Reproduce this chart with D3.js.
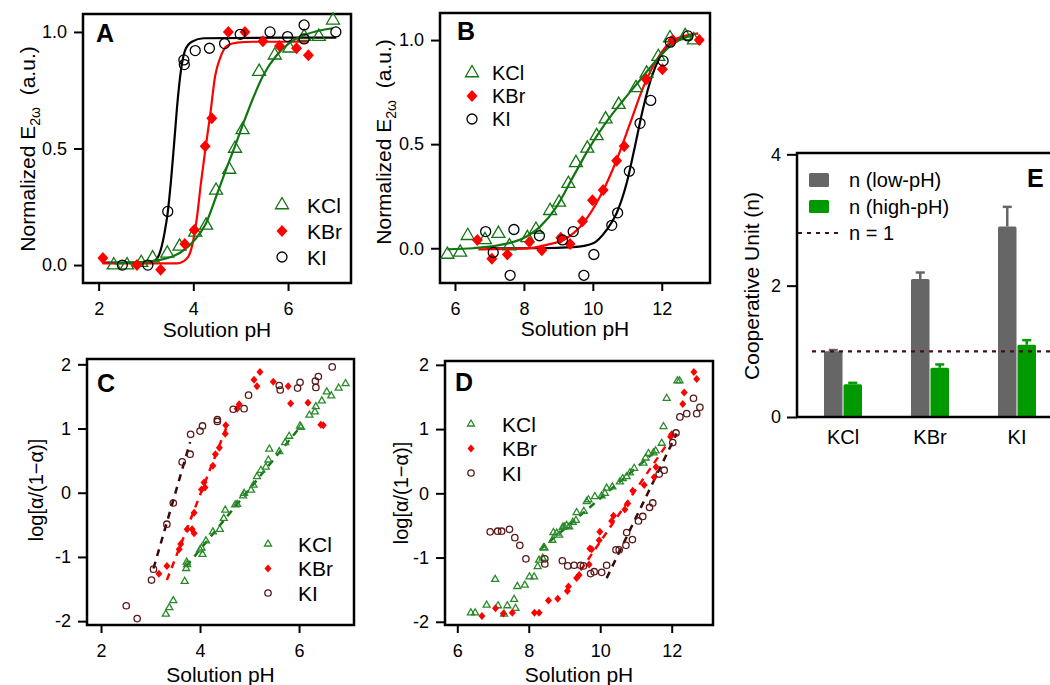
<!DOCTYPE html>
<html>
<head>
<meta charset="utf-8">
<script src="https://cdn.jsdelivr.net/npm/d3@7"></script>
<style>
  body { margin: 0; background: #fff; }
  svg { font-family: "Liberation Sans", Arial, sans-serif; }
  .tick text { font-size: 18px; fill: #000; }
  .tick line { stroke: #000; stroke-width: 2; }
</style>
</head>
<body>
<svg id="fig" width="1050" height="685"></svg>
<script>
// ---- data ----

// A: normalized E2w vs pH, low-pH transition
const aKCl = [[2.32,0.00],[2.60,0.00],[2.90,0.01],[3.14,0.03],[3.45,0.05],[3.71,0.08],[4.04,0.14],[4.27,0.17],[4.48,0.32],[4.76,0.41],[4.88,0.50],[5.04,0.58],[5.39,0.83],[5.72,0.90],[6.03,0.93],[6.34,0.98],[6.65,0.98],[6.95,1.05]];
const aKBr = [[2.09,0.03],[2.81,0.00],[3.31,-0.02],[3.82,0.09],[4.02,0.15],[4.25,0.51],[4.39,0.63],[4.74,1.00],[5.09,1.00],[5.47,0.96],[5.82,0.94],[6.18,0.93],[6.43,0.90]];
const aKI = [[2.50,0.00],[3.04,0.00],[3.46,0.23],[3.80,0.88],[3.81,0.86],[4.04,0.92],[4.34,0.93],[4.66,0.95],[4.99,0.99],[5.62,1.00],[5.99,0.98],[6.34,1.03],[6.34,0.97],[7.01,1.00]];
const aFitKCl = [[2.32,0.007],[3.16,0.018],[3.73,0.054],[4.04,0.11],[4.27,0.18],[4.48,0.293],[4.71,0.42],[4.88,0.51],[5.06,0.61],[5.27,0.72],[5.48,0.815],[5.76,0.90],[6.04,0.954],[6.39,0.99],[6.95,1.016]];
const aFitKBr = [[2.08,0.007],[3.66,0.007],[3.87,0.029],[3.97,0.079],[4.08,0.21],[4.16,0.35],[4.25,0.49],[4.36,0.65],[4.46,0.81],[4.57,0.89],[4.71,0.94],[4.92,0.954],[5.27,0.958],[6.43,0.958]];
const aFitKI = [[2.08,0.011],[3.02,0.011],[3.20,0.021],[3.31,0.064],[3.39,0.136],[3.46,0.226],[3.53,0.365],[3.60,0.536],[3.67,0.708],[3.74,0.837],[3.83,0.923],[3.97,0.958],[4.22,0.973],[7.02,0.976]];

// B: normalized E2w vs pH, high-pH transition
const bKCl = [[5.78,-0.03],[6.15,-0.02],[6.37,0.06],[6.87,0.04],[7.26,0.07],[7.58,0.01],[8.10,0.05],[8.35,0.09],[8.76,0.18],[9.02,0.22],[9.29,0.31],[9.51,0.41],[9.84,0.48],[10.11,0.54],[10.37,0.62],[10.75,0.69],[11.25,0.77],[11.56,0.84],[11.90,0.92],[12.24,1.01],[12.68,1.02],[12.93,1.00]];
const bKBr = [[6.65,0.04],[7.07,-0.05],[7.52,-0.03],[8.16,0.03],[8.52,-0.01],[9.07,0.05],[9.34,0.02],[9.70,0.13],[9.99,0.23],[10.30,0.28],[10.69,0.42],[10.91,0.49],[11.55,0.81],[12.02,0.86],[12.32,1.00],[13.09,1.00]];
const bKI = [[6.89,0.08],[7.11,-0.02],[7.60,-0.13],[7.71,0.09],[8.45,0.06],[9.12,0.04],[9.43,0.08],[9.74,-0.13],[10.03,-0.03],[10.55,0.11],[10.72,0.17],[11.06,0.37],[11.37,0.60],[11.68,0.71],[12.04,0.90],[12.25,0.99],[12.76,1.02]];
const bFitKCl = [[5.78,-0.005],[6.53,0.0],[7.31,0.016],[7.98,0.048],[8.47,0.104],[8.95,0.20],[9.43,0.344],[9.92,0.488],[10.40,0.608],[10.89,0.712],[11.37,0.808],[11.85,0.904],[12.34,0.984],[12.92,1.024]];
const bFitKBr = [[6.68,-0.005],[7.98,-0.002],[8.66,0.016],[9.24,0.048],[9.72,0.12],[10.21,0.248],[10.69,0.424],[11.08,0.60],[11.47,0.776],[11.85,0.904],[12.34,1.0],[13.06,1.032]];
const bFitKI = [[6.92,0.0],[8.47,0.0],[9.43,0.005],[10.01,0.024],[10.40,0.088],[10.69,0.168],[10.98,0.312],[11.22,0.488],[11.47,0.68],[11.71,0.824],[11.95,0.92],[12.24,0.984],[12.73,1.02]];

// C: log[a/(1-a)] vs pH, low-pH
const cKCl = [[3.31,-1.89],[3.38,-1.79],[3.46,-1.68],[3.69,-1.38],[3.72,-1.18],[3.74,-1.12],[3.73,-1.08],[4.00,-0.89],[4.03,-0.86],[4.05,-0.96],[4.12,-0.75],[4.26,-0.61],[4.40,-0.57],[4.48,-0.40],[4.51,-0.27],[4.71,-0.19],[4.75,-0.18],[4.87,-0.05],[4.89,-0.01],[5.03,0.04],[5.08,0.12],[5.15,0.25],[5.23,0.35],[5.33,0.40],[5.38,0.51],[5.40,0.68],[5.60,0.64],[5.72,0.78],[5.80,0.88],[6.02,1.04],[6.04,1.02],[6.21,1.21],[6.32,1.26],[6.34,1.34],[6.46,1.43],[6.56,1.57],[6.65,1.51],[6.80,1.63],[6.94,1.70]];
const cKBr = [[3.17,-1.26],[3.33,-1.14],[3.58,-0.88],[3.61,-0.80],[3.74,-0.57],[3.84,-0.57],[3.88,-0.63],[3.88,-0.31],[4.03,0.05],[4.08,0.16],[4.10,0.08],[4.26,0.42],[4.31,0.60],[4.39,0.70],[4.51,0.92],[4.52,1.05],[4.75,1.31],[4.79,1.38],[5.09,1.76],[5.15,1.66],[5.21,1.88],[5.48,1.73],[5.78,1.66],[5.83,1.39],[6.18,1.40],[6.44,1.06],[6.49,1.05]];
const cKI = [[2.51,-1.76],[2.73,-1.96],[3.02,-1.36],[3.06,-1.19],[3.33,-0.49],[3.46,-0.16],[3.64,0.48],[3.80,0.60],[3.81,0.91],[4.00,0.96],[4.05,1.04],[4.35,1.14],[4.35,1.11],[4.67,1.30],[4.89,1.31],[4.98,1.52],[5.60,1.67],[5.62,1.60],[5.97,1.63],[6.02,1.72],[6.33,1.74],[6.34,1.64],[6.39,1.81],[6.67,1.96]];
const cFitKCl = [[3.72,-1.15],[6.05,1.05]];
const cFitKBr = [[3.33,-1.36],[4.55,1.05]];
const cFitKI = [[3.06,-1.18],[3.80,0.79]];

// D: log[a/(1-a)] vs pH, high-pH
const dKCl = [[6.38,-1.86],[6.50,-1.86],[6.82,-1.74],[7.06,-1.34],[7.14,-1.75],[7.31,-1.88],[7.40,-1.75],[7.59,-1.65],[7.63,-1.79],[7.68,-1.45],[7.89,-1.43],[8.02,-1.30],[8.15,-1.30],[8.25,-1.14],[8.29,-1.04],[8.39,-1.01],[8.41,-0.85],[8.44,-0.85],[8.66,-0.73],[8.69,-0.61],[8.78,-0.62],[8.85,-0.65],[8.95,-0.53],[8.99,-0.52],[9.06,-0.50],[9.13,-0.52],[9.23,-0.45],[9.32,-0.42],[9.34,-0.30],[9.54,-0.28],[9.62,-0.13],[9.67,-0.10],[9.85,-0.05],[10.04,-0.04],[10.13,0.00],[10.18,0.08],[10.34,0.10],[10.55,0.18],[10.63,0.23],[10.74,0.26],[10.83,0.32],[10.95,0.39],[11.21,0.47],[11.27,0.55],[11.35,0.62],[11.49,0.63],[11.55,0.66],[11.72,0.78],[11.77,1.04],[11.86,1.48],[12.16,1.75],[12.22,1.75]];
const dKBr = [[6.69,-1.91],[7.07,-1.79],[7.29,-1.87],[7.54,-1.86],[8.16,-1.86],[8.29,-1.86],[8.55,-1.67],[8.81,-1.64],[9.08,-1.52],[9.11,-1.45],[9.34,-1.32],[9.41,-1.27],[9.69,-1.11],[9.71,-0.86],[9.76,-0.87],[9.97,-0.73],[9.99,-0.60],[10.32,-0.43],[10.37,-0.35],[10.69,-0.25],[10.77,-0.16],[10.91,0.04],[11.23,0.13],[11.51,0.25],[11.56,0.41],[11.97,0.88],[12.00,0.92],[12.31,1.39],[12.35,1.57],[12.62,1.89],[12.70,1.78]];
const dKI = [[6.92,-0.60],[7.13,-0.59],[7.24,-0.59],[7.46,-0.56],[7.61,-0.69],[7.75,-0.81],[7.92,-1.02],[8.45,-1.02],[8.45,-1.10],[8.94,-1.05],[9.09,-1.13],[9.27,-1.12],[9.45,-1.12],[9.53,-1.13],[9.73,-1.25],[9.83,-1.22],[10.04,-1.23],[10.18,-1.12],[10.44,-0.88],[10.53,-0.88],[10.72,-0.81],[10.74,-0.61],[10.90,-0.72],[11.07,-0.43],[11.19,-0.36],[11.38,-0.22],[11.47,-0.15],[11.65,0.30],[11.79,0.36],[12.03,0.79],[12.12,0.94],[12.23,1.19],[12.42,1.24],[12.61,1.48],[12.70,1.24],[12.79,1.34]];
const dFitKCl = [[8.31,-0.88],[11.58,0.67]];
const dFitKBr = [[9.45,-1.20],[11.85,0.75]];
const dFitKI = [[10.18,-1.32],[12.14,0.93]];

// E: cooperative unit n
const salts = ['KCl', 'KBr', 'KI'];
const nLow = [1.00, 2.10, 2.90];
const nLowErr = [0.02, 0.10, 0.30];
const nHigh = [0.50, 0.75, 1.10];
const nHighErr = [0.02, 0.05, 0.07];

// ---- styles ----
const GREEN = '#127512', RED = '#ff0000', BLACK = '#000000';
const BROWN = '#5a1818', DARKBROWN = '#3a0808';
const GREEN_S = '#2a8a2a';

const svg = d3.select('#fig');

function triPath(s) {
  const h = s * 0.866;
  return `M0,${-h * 2 / 3}L${s / 2},${h / 3}L${-s / 2},${h / 3}Z`;
}
function diaPath(w, h) {
  return `M0,${-h / 2}L${w / 2},0L0,${h / 2}L${-w / 2},0Z`;
}

const fmt1 = d3.format('.1f');
const fmtInt = d => String(d);

function panel(o) {
  const x = d3.scaleLinear().domain(o.xDomain).range([o.left, o.right]);
  const y = d3.scaleLinear().domain(o.yDomain).range([o.bottom, o.top]);

  svg.append('g')
    .attr('transform', `translate(0,${o.bottom})`)
    .call(d3.axisBottom(x).tickValues(o.xTicks).tickFormat(fmtInt).tickSize(8).tickSizeOuter(0).tickPadding(11))
    .call(g => g.select('.domain').remove());
  svg.append('g')
    .attr('transform', `translate(${o.left},0)`)
    .call(d3.axisLeft(y).tickValues(o.yTicks).tickFormat(o.yFmt).tickSize(9).tickSizeOuter(0).tickPadding(7))
    .call(g => g.select('.domain').remove());

  svg.append('rect')
    .attr('x', o.left).attr('y', o.top)
    .attr('width', o.right - o.left).attr('height', o.bottom - o.top)
    .attr('fill', 'none').attr('stroke', '#000').attr('stroke-width', 2.5);

  svg.append('text')
    .attr('x', (o.left + o.right) / 2).attr('y', o.xTitleY)
    .attr('text-anchor', 'middle').attr('font-size', 21)
    .text('Solution pH');

  svg.append('text')
    .attr('x', o.letter[0]).attr('y', o.letter[1])
    .attr('font-size', 25).attr('font-weight', 'bold')
    .text(o.letterText);

  return { x, y };
}

function drawCurve(p, pts, color, dashed, width) {
  const line = d3.line().x(d => p.x(d[0])).y(d => p.y(d[1]));
  if (!dashed) line.curve(d3.curveMonotoneX);
  svg.append('path')
    .attr('d', line(pts))
    .attr('fill', 'none').attr('stroke', color)
    .attr('stroke-width', width)
    .attr('stroke-dasharray', dashed ? '7,6' : null);
}

function styleMark(sel, shape, color, big) {
  if (shape === 'tri') {
    sel.attr('d', triPath(big ? 13 : 7)).attr('fill', 'none')
      .attr('stroke', color).attr('stroke-width', 1.3);
  } else if (shape === 'dia') {
    sel.attr('d', big ? diaPath(11, 12) : diaPath(7, 8)).attr('fill', color).attr('stroke', 'none');
  } else {
    const r = big ? 5 : 3.2;
    sel.attr('d', `M${-r},0A${r},${r} 0 1,0 ${r},0A${r},${r} 0 1,0 ${-r},0Z`)
      .attr('fill', 'none').attr('stroke', color).attr('stroke-width', 1.3);
  }
}

function drawMarks(p, pts, shape, color, big) {
  const sel = svg.append('g').selectAll('path').data(pts).join('path')
    .attr('transform', d => `translate(${p.x(d[0])},${p.y(d[1])})`);
  styleMark(sel, shape, color, big);
}

function legend(x0, xt, rows, dy, entries, big, fontSize) {
  entries.forEach((e, i) => {
    const yy = rows + i * dy;
    const m = svg.append('path').attr('transform', `translate(${x0},${yy})`);
    styleMark(m, e.shape, e.color, big);
    svg.append('text').attr('x', xt).attr('y', yy)
      .attr('dy', '0.36em').attr('font-size', fontSize).text(e.label);
  });
}

function e2wTitle(x, y) {
  const t = svg.append('text')
    .attr('transform', `translate(${x},${y}) rotate(-90)`)
    .attr('text-anchor', 'middle').attr('font-size', 21);
  t.append('tspan').text('Normalized E');
  t.append('tspan').attr('dy', 5).attr('font-size', 14).text('2ω');
  t.append('tspan').attr('dy', -5).text('\u00a0 (a.u.)');
}

// ---- Panel A ----
const pA = panel({
  left: 83, right: 351, top: 14, bottom: 283,
  xDomain: [1.67, 7.33], yDomain: [-0.077, 1.077],
  xTicks: [2, 4, 6], yTicks: [0, 0.5, 1], yFmt: fmt1,
  xTitleY: 337, letter: [96, 42], letterText: 'A'
});
e2wTitle(35, 149);
drawCurve(pA, aFitKI, BLACK, false, 2.2);
drawCurve(pA, aFitKBr, RED, false, 2.2);
drawCurve(pA, aFitKCl, GREEN, false, 2.2);
drawMarks(pA, aKCl, 'tri', GREEN, true);
drawMarks(pA, aKBr, 'dia', RED, true);
drawMarks(pA, aKI, 'circ', BLACK, true);
legend(282, 307, 205, 26, [
  { shape: 'tri', color: GREEN, label: 'KCl' },
  { shape: 'dia', color: RED, label: 'KBr' },
  { shape: 'circ', color: BLACK, label: 'KI' }
], true, 21);

// ---- Panel B ----
const pB = panel({
  left: 440, right: 710, top: 13, bottom: 283,
  xDomain: [5.565, 13.40], yDomain: [-0.167, 1.13],
  xTicks: [6, 8, 10, 12], yTicks: [0, 0.5, 1], yFmt: fmt1,
  xTitleY: 336, letter: [457, 40], letterText: 'B'
});
e2wTitle(391, 142);
drawCurve(pB, bFitKI, BLACK, false, 2.2);
drawCurve(pB, bFitKBr, RED, false, 2.2);
drawCurve(pB, bFitKCl, GREEN, false, 2.2);
drawMarks(pB, bKCl, 'tri', GREEN, true);
drawMarks(pB, bKBr, 'dia', RED, true);
drawMarks(pB, bKI, 'circ', BLACK, true);
legend(472, 492, 73, 23, [
  { shape: 'tri', color: GREEN, label: 'KCl' },
  { shape: 'dia', color: RED, label: 'KBr' },
  { shape: 'circ', color: BLACK, label: 'KI' }
], true, 20);

// ---- Panel C ----
const pC = panel({
  left: 87, right: 354, top: 359, bottom: 625,
  xDomain: [1.717, 7.11], yDomain: [-2.06, 2.083],
  xTicks: [2, 4, 6], yTicks: [-2, -1, 0, 1, 2], yFmt: fmtInt,
  xTitleY: 682, letter: [97, 392], letterText: 'C'
});
svg.append('text')
  .attr('transform', 'translate(43,490) rotate(-90)')
  .attr('text-anchor', 'middle').attr('font-size', 20)
  .text('log[α/(1\u2212α)]');
drawCurve(pC, cFitKCl, GREEN, true, 2.5);
drawCurve(pC, cFitKBr, RED, true, 2.5);
drawCurve(pC, cFitKI, DARKBROWN, true, 2.5);
drawMarks(pC, cKCl, 'tri', GREEN_S, false);
drawMarks(pC, cKBr, 'dia', RED, false);
drawMarks(pC, cKI, 'circ', BROWN, false);
legend(268, 298, 544, 24.5, [
  { shape: 'tri', color: GREEN_S, label: 'KCl' },
  { shape: 'dia', color: RED, label: 'KBr' },
  { shape: 'circ', color: BROWN, label: 'KI' }
], false, 21);

// ---- Panel D ----
const pD = panel({
  left: 445, right: 713, top: 361, bottom: 625,
  xDomain: [5.656, 13.156], yDomain: [-2.05, 2.06],
  xTicks: [6, 8, 10, 12], yTicks: [-2, -1, 0, 1, 2], yFmt: fmtInt,
  xTitleY: 682, letter: [455, 391], letterText: 'D'
});
svg.append('text')
  .attr('transform', 'translate(408,493) rotate(-90)')
  .attr('text-anchor', 'middle').attr('font-size', 20)
  .text('log[α/(1\u2212α)]');
drawCurve(pD, dFitKCl, GREEN, true, 2.5);
drawCurve(pD, dFitKBr, RED, true, 2.5);
drawCurve(pD, dFitKI, DARKBROWN, true, 2.5);
drawMarks(pD, dKCl, 'tri', GREEN_S, false);
drawMarks(pD, dKBr, 'dia', RED, false);
drawMarks(pD, dKI, 'circ', BROWN, false);
legend(471, 502, 424, 24.5, [
  { shape: 'tri', color: GREEN_S, label: 'KCl' },
  { shape: 'dia', color: RED, label: 'KBr' },
  { shape: 'circ', color: BROWN, label: 'KI' }
], false, 21);

// ---- Panel E ----
const E = { left: 797, right: 1062, top: 153, bottom: 417 };
const xE = d3.scaleBand().domain(salts).range([799.5, 1060.5]);
const xSub = d3.scaleBand().domain(['low', 'high']).range([-19, 19]).paddingInner(0.05);
const yE = d3.scaleLinear().domain([0, 4.02]).range([E.bottom, E.top]);
const GRAY = '#666666', BARGREEN = '#009a00';

svg.append('g')
  .attr('transform', `translate(${E.left},0)`)
  .call(d3.axisLeft(yE).tickValues([0, 2, 4]).tickFormat(fmtInt).tickSize(10).tickSizeOuter(0).tickPadding(6))
  .call(g => g.select('.domain').remove());

svg.append('text')
  .attr('transform', 'translate(759,286) rotate(-90)')
  .attr('text-anchor', 'middle').attr('font-size', 21)
  .text('Cooperative Unit (n)');

const center = s => xE(s) + xE.bandwidth() / 2;
const barData = [];
salts.forEach((s, i) => {
  barData.push({ s, key: 'low', v: nLow[i], err: nLowErr[i], color: GRAY });
  barData.push({ s, key: 'high', v: nHigh[i], err: nHighErr[i], color: BARGREEN });
});

svg.append('g').selectAll('rect').data(barData).join('rect')
  .attr('x', d => center(d.s) + xSub(d.key))
  .attr('width', xSub.bandwidth())
  .attr('y', d => yE(d.v))
  .attr('height', d => yE(0) - yE(d.v))
  .attr('rx', 1.5)
  .attr('fill', d => d.color);

// upper error bars with caps
const errs = svg.append('g');
barData.forEach(d => {
  const cx = center(d.s) + xSub(d.key) + xSub.bandwidth() / 2;
  errs.append('line')
    .attr('x1', cx).attr('x2', cx)
    .attr('y1', yE(d.v)).attr('y2', yE(d.v + d.err))
    .attr('stroke', d.color).attr('stroke-width', 2.5);
  errs.append('line')
    .attr('x1', cx - 4.5).attr('x2', cx + 4.5)
    .attr('y1', yE(d.v + d.err)).attr('y2', yE(d.v + d.err))
    .attr('stroke', d.color).attr('stroke-width', 2.5);
});

// n = 1 reference
svg.append('line')
  .attr('x1', 812).attr('x2', 1050)
  .attr('y1', yE(1)).attr('y2', yE(1))
  .attr('stroke', '#4a0d18').attr('stroke-width', 2.2)
  .attr('stroke-dasharray', '4,5');

svg.append('rect')
  .attr('x', E.left).attr('y', E.top)
  .attr('width', E.right - E.left).attr('height', E.bottom - E.top)
  .attr('fill', 'none').attr('stroke', '#000').attr('stroke-width', 2.5);

svg.append('g').selectAll('text').data(salts).join('text')
  .attr('x', d => center(d)).attr('y', 444)
  .attr('text-anchor', 'middle').attr('font-size', 20)
  .text(d => d);

// legend E
svg.append('rect').attr('x', 809).attr('y', 173).attr('width', 20).attr('height', 14).attr('rx', 1.5).attr('fill', GRAY);
svg.append('rect').attr('x', 809).attr('y', 200).attr('width', 20).attr('height', 13).attr('rx', 1.5).attr('fill', BARGREEN);
svg.append('line').attr('x1', 798).attr('x2', 838).attr('y1', 233).attr('y2', 233)
  .attr('stroke', '#4a0d18').attr('stroke-width', 2.2).attr('stroke-dasharray', '4,5');
[['n (low-pH)', 180], ['n (high-pH)', 207], ['n = 1', 233]].forEach(([t, yy]) => {
  svg.append('text').attr('x', 849).attr('y', yy).attr('dy', '0.36em')
    .attr('font-size', 20).text(t);
});
svg.append('text').attr('x', 1027).attr('y', 187)
  .attr('font-size', 25).attr('font-weight', 'bold').text('E');
</script>
</body>
</html>
